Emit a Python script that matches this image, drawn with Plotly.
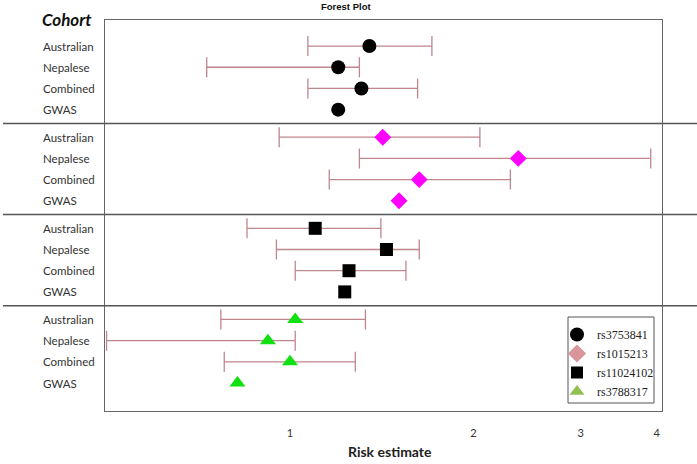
import math
import plotly.graph_objects as go

# ---- data ----
cohorts = ["Australian", "Nepalese", "Combined", "GWAS"]
snps = ["rs3753841", "rs1015213", "rs11024102", "rs3788317"]

est_rs3753841 = [1.35, 1.20, 1.31, 1.20]
lo_rs3753841 = [1.07, 0.73, 1.07, None]
hi_rs3753841 = [1.71, 1.30, 1.62, None]

est_rs1015213 = [1.42, 2.37, 1.63, 1.51]
lo_rs1015213 = [0.96, 1.30, 1.16, None]
hi_rs1015213 = [2.05, 3.91, 2.30, None]

est_rs11024102 = [1.10, 1.44, 1.25, 1.23]
lo_rs11024102 = [0.85, 0.95, 1.02, None]
hi_rs11024102 = [1.41, 1.63, 1.55, None]

est_rs3788317 = [1.02, 0.92, 1.00, 0.82]
lo_rs3788317 = [0.77, 0.50, 0.78, None]
hi_rs3788317 = [1.33, 1.02, 1.28, None]

x_ticks = [1, 2, 3, 4]
x_ticktext = ["1", "2", "3", "4"]

series = [
    (est_rs3753841, lo_rs3753841, hi_rs3753841),
    (est_rs1015213, lo_rs1015213, hi_rs1015213),
    (est_rs11024102, lo_rs11024102, hi_rs11024102),
    (est_rs3788317, lo_rs3788317, hi_rs3788317),
]

# ---- styles ----
plot_symbols = ["circle", "diamond", "square", "triangle-up"]
plot_colors = ["#000000", "#ff00ff", "#000000", "#11e011"]
plot_sizes = [14, 13, 13, 14]
legend_colors = ["#000000", "#d9969a", "#000000", "#92c050"]
legend_sizes = [14, 14, 12, 13]
err_color = "#bf868c"
GROUP_STEP = 4.3

W, H = 697, 464
ML, MR, MT, MB = 105, 35, 20, 53
pw = W - ML - MR
ph = H - MT - MB


def px_x(v):
    return (v - ML) / pw


def px_y(v):
    return (H - MB - v) / ph


fig = go.Figure()

for g, (est, lo, hi) in enumerate(series):
    ys = [g * GROUP_STEP + r for r in range(len(cohorts))]
    ci_idx = [i for i in range(len(est)) if lo[i] is not None]
    fig.add_trace(go.Scatter(
        x=[est[i] for i in ci_idx], y=[ys[i] for i in ci_idx],
        mode="markers", marker=dict(size=1, opacity=0),
        error_x=dict(type="data", symmetric=False,
                     array=[hi[i] - est[i] for i in ci_idx],
                     arrayminus=[est[i] - lo[i] for i in ci_idx],
                     color=err_color, thickness=1.3, width=10),
        showlegend=False, hoverinfo="skip"))
    fig.add_trace(go.Scatter(
        x=est, y=ys, mode="markers",
        marker=dict(symbol=plot_symbols[g], color=plot_colors[g],
                    size=plot_sizes[g], line=dict(width=0)),
        showlegend=False, name=snps[g]))
    fig.add_trace(go.Scatter(
        x=[None], y=[None], mode="markers", name=snps[g],
        marker=dict(symbol=plot_symbols[g], color=legend_colors[g],
                    size=legend_sizes[g], line=dict(width=0)),
        showlegend=True))

annotations = []
for g in range(len(series)):
    for r, c in enumerate(cohorts):
        annotations.append(dict(
            x=px_x(41), xref="paper", xanchor="left",
            y=g * GROUP_STEP + r, yref="y", yanchor="middle",
            text=c, showarrow=False,
            font=dict(family="Lato", size=11.5, color="#333333")))

annotations.append(dict(x=px_x(40), xref="paper", xanchor="left",
                        y=1 + 1 / ph, yref="paper", yanchor="middle",
                        text="<b><i>Cohort</i></b>", showarrow=False,
                        font=dict(family="Lato", size=17, color="#111111")))
annotations.append(dict(x=px_x(346), xref="paper", xanchor="center",
                        y=1 + 13 / ph, yref="paper", yanchor="middle",
                        text="<b>Forest Plot</b>", showarrow=False,
                        font=dict(family="Liberation Sans", size=9.5, color="#111111")))
annotations.append(dict(x=px_x(390), xref="paper", xanchor="center",
                        y=px_y(451), yref="paper", yanchor="middle",
                        text="<b>Risk estimate</b>", showarrow=False,
                        font=dict(family="Lato", size=14, color="#222222")))

shapes = []
shapes.append(dict(type="line", xref="x", yref="paper", x0=0, x1=0, y0=0, y1=1,
                   line=dict(color="#8a8ab4", width=1.2, dash="dash")))
for g in range(1, len(series)):
    ysep = g * GROUP_STEP - (GROUP_STEP - 3) / 2
    shapes.append(dict(type="line", xref="paper", yref="y",
                       x0=px_x(3), x1=px_x(W), y0=ysep, y1=ysep,
                       line=dict(color="#555555", width=1.5)))
# legend frame
shapes.append(dict(type="rect", xref="paper", yref="paper",
                   x0=px_x(568), x1=px_x(654), y0=px_y(403), y1=px_y(317),
                   line=dict(color="#555555", width=1), fillcolor="white",
                   layer="above"))

fig.update_layout(
    width=W, height=H,
    margin=dict(l=ML, r=MR, t=MT, b=MB),
    paper_bgcolor="white", plot_bgcolor="white",
    annotations=annotations, shapes=shapes,
    showlegend=True,
    legend=dict(x=px_x(557), y=px_y(320),
                xanchor="left", yanchor="top",
                borderwidth=0, bgcolor="rgba(0,0,0,0)",
                font=dict(family="Liberation Serif", size=12, color="#222222"),
                itemsizing="trace", itemwidth=30, tracegroupgap=0),
)
fig.update_xaxes(type="log", range=[math.log10(0.497), math.log10(4.08)],
                 tickvals=x_ticks, ticktext=x_ticktext, ticks="",
                 showgrid=False, zeroline=False, showline=True, mirror=True,
                 linecolor="#666666", linewidth=1.2,
                 tickfont=dict(family="Lato", size=11, color="#333333"),
                 ticklabelstandoff=12)
fig.update_yaxes(range=[17.22, -1.23], showticklabels=False, ticks="",
                 showgrid=False, zeroline=False, showline=True, mirror=True,
                 linecolor="#666666", linewidth=1.2)

fig.write_html("out.html", config={"displayModeBar": False},
               post_script="document.body.style.margin='0px';document.body.style.overflow='hidden';")
